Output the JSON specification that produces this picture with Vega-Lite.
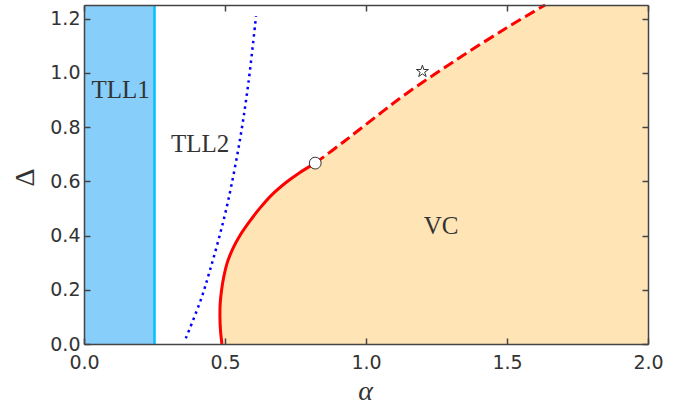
{
  "$schema": "https://vega.github.io/schema/vega-lite/v6.json",
  "width": 564,
  "height": 339,
  "autosize": {"type": "none"},
  "padding": {"left": 84, "top": 5, "right": 49, "bottom": 64},
  "background": "white",
  "config": {"view": {"stroke": null}},
  "datasets": {
    "tll1": [{"a0": 0, "a1": 0.25, "d0": 0, "d1": 1.25}],
    "vline": [{"a": 0.25, "d": 0}, {"a": 0.25, "d": 1.25}],
    "vc": [
      {"a": 0.489, "d": 0.0},
      {"a": 0.484, "d": 0.05},
      {"a": 0.482, "d": 0.1},
      {"a": 0.483, "d": 0.15},
      {"a": 0.488, "d": 0.2},
      {"a": 0.496, "d": 0.25},
      {"a": 0.508, "d": 0.3},
      {"a": 0.527, "d": 0.35},
      {"a": 0.553, "d": 0.4},
      {"a": 0.586, "d": 0.45},
      {"a": 0.623, "d": 0.5},
      {"a": 0.666, "d": 0.55},
      {"a": 0.722, "d": 0.6},
      {"a": 0.762, "d": 0.63},
      {"a": 0.82, "d": 0.667},
      {"a": 0.92, "d": 0.745},
      {"a": 1.03, "d": 0.834},
      {"a": 1.144, "d": 0.924},
      {"a": 1.322, "d": 1.049},
      {"a": 1.499, "d": 1.166},
      {"a": 1.635, "d": 1.25}
    ],
    "tll2": [
      {"a": 0.361, "d": 0.021},
      {"a": 0.414, "d": 0.162},
      {"a": 0.447, "d": 0.273},
      {"a": 0.481, "d": 0.4},
      {"a": 0.512, "d": 0.532},
      {"a": 0.553, "d": 0.753},
      {"a": 0.583, "d": 0.963},
      {"a": 0.61, "d": 1.209}
    ],
    "circle": [{"a": 0.82, "d": 0.667}],
    "star": [{"a": 1.2, "d": 1.005}],
    "labels": [
      {"a": 0.13, "d": 0.936, "t": "TLL1"},
      {"a": 0.412, "d": 0.737, "t": "TLL2"},
      {"a": 1.266, "d": 0.434, "t": "VC"}
    ]
  },
  "layer": [
    {
      "data": {"name": "tll1"},
      "mark": {"type": "rect", "fill": "#87cefa"},
      "encoding": {
        "x": {"field": "a0", "type": "quantitative",
          "scale": {"domain": [0, 2], "nice": false, "zero": false},
          "axis": {"orient": "bottom", "values": [0, 0.5, 1, 1.5, 2], "format": ".1f",
            "tickSize": -6, "tickWidth": 1.5, "tickColor": "#444444",
            "domainColor": "#444444", "domainWidth": 1.5,
            "labelFont": "DejaVu Sans", "labelFontSize": 19, "labelColor": "#333333",
            "labelPadding": 15, "labelFlush": false,
            "grid": false, "zindex": 1,
            "title": "α", "titleFont": "Liberation Serif", "titleFontStyle": "italic",
            "titleFontWeight": "normal", "titleFontSize": 28, "titleColor": "#333333",
            "titleX": 281, "titleY": 47, "titleBaseline": "middle", "titleAlign": "center"}},
        "x2": {"field": "a1"},
        "y": {"field": "d0", "type": "quantitative",
          "scale": {"domain": [0, 1.25], "nice": false, "zero": false},
          "axis": {"orient": "left", "values": [0, 0.2, 0.4, 0.6, 0.8, 1.0, 1.2], "format": ".1f",
            "tickSize": -6, "tickWidth": 1.5, "tickColor": "#444444",
            "domainColor": "#444444", "domainWidth": 1.5,
            "labelFont": "DejaVu Sans", "labelFontSize": 19, "labelColor": "#333333",
            "labelPadding": 10, "labelFlush": false,
            "grid": false, "zindex": 1,
            "title": "Δ", "titleFont": "Liberation Serif", "titleFontWeight": "normal",
            "titleFontSize": 28, "titleColor": "#333333", "titleAngle": 270,
            "titleX": -59, "titleY": 172, "titleBaseline": "middle", "titleAlign": "center"}},
        "y2": {"field": "d1"}
      }
    },
    {
      "data": {"name": "vc"},
      "mark": {"type": "area", "orient": "horizontal", "fill": "#ffe4b5", "opacity": 1, "interpolate": "catmull-rom"},
      "encoding": {
        "y": {"field": "d", "type": "quantitative",
          "axis": {"orient": "right", "values": [0, 0.2, 0.4, 0.6, 0.8, 1.0, 1.2],
            "labels": false, "title": null, "tickSize": -6, "tickWidth": 1.5, "tickColor": "#444444",
            "domainColor": "#444444", "domainWidth": 1.5, "grid": false, "zindex": 1}},
        "x": {"field": "a", "type": "quantitative",
          "axis": {"orient": "top", "values": [0, 0.5, 1, 1.5, 2],
            "labels": false, "title": null, "tickSize": -6, "tickWidth": 1.5, "tickColor": "#444444",
            "domainColor": "#444444", "domainWidth": 1.5, "grid": false, "zindex": 1}},
        "x2": {"datum": 2}
      }
    },
    {
      "data": {"name": "vline"},
      "mark": {"type": "line", "color": "#00bfff", "strokeWidth": 2.5},
      "encoding": {
        "x": {"field": "a", "type": "quantitative", "axis": null},
        "y": {"field": "d", "type": "quantitative", "axis": null}
      }
    },
    {
      "data": {"name": "tll2"},
      "mark": {"type": "line", "color": "#0000ff", "strokeWidth": 2.5, "strokeDash": [2.5, 4.1], "strokeCap": "butt", "interpolate": "catmull-rom"},
      "encoding": {
        "x": {"field": "a", "type": "quantitative", "axis": null},
        "y": {"field": "d", "type": "quantitative", "axis": null},
        "order": {"field": "d", "type": "quantitative"}
      }
    },
    {
      "data": {"name": "vc"},
      "transform": [{"filter": "datum.d <= 0.667"}],
      "mark": {"type": "line", "color": "#ff0000", "strokeWidth": 3, "interpolate": "catmull-rom"},
      "encoding": {
        "x": {"field": "a", "type": "quantitative", "axis": null},
        "y": {"field": "d", "type": "quantitative", "axis": null},
        "order": {"field": "d", "type": "quantitative"}
      }
    },
    {
      "data": {"name": "vc"},
      "transform": [{"filter": "datum.d >= 0.667"}],
      "mark": {"type": "line", "color": "#ff0000", "strokeWidth": 3, "strokeDash": [11, 5], "strokeCap": "butt", "interpolate": "catmull-rom"},
      "encoding": {
        "x": {"field": "a", "type": "quantitative", "axis": null},
        "y": {"field": "d", "type": "quantitative", "axis": null},
        "order": {"field": "d", "type": "quantitative"}
      }
    },
    {
      "data": {"name": "circle"},
      "mark": {"type": "point", "shape": "circle", "filled": true, "fill": "white", "stroke": "#333333", "strokeWidth": 1, "size": 140, "opacity": 1},
      "encoding": {
        "x": {"field": "a", "type": "quantitative", "axis": null},
        "y": {"field": "d", "type": "quantitative", "axis": null}
      }
    },
    {
      "data": {"name": "star"},
      "mark": {"type": "point", "shape": "M0,-1L0.225,-0.309L0.951,-0.309L0.363,0.118L0.588,0.809L0,0.382L-0.588,0.809L-0.363,0.118L-0.951,-0.309L-0.225,-0.309Z", "filled": true, "fill": "white", "stroke": "#333333", "strokeWidth": 1, "size": 160, "opacity": 1},
      "encoding": {
        "x": {"field": "a", "type": "quantitative", "axis": null},
        "y": {"field": "d", "type": "quantitative", "axis": null}
      }
    },
    {
      "data": {"name": "labels"},
      "mark": {"type": "text", "font": "Liberation Serif", "fontSize": 25, "color": "#333333", "align": "center", "baseline": "middle"},
      "encoding": {
        "x": {"field": "a", "type": "quantitative", "axis": null},
        "y": {"field": "d", "type": "quantitative", "axis": null},
        "text": {"field": "t"}
      }
    }
  ]
}
